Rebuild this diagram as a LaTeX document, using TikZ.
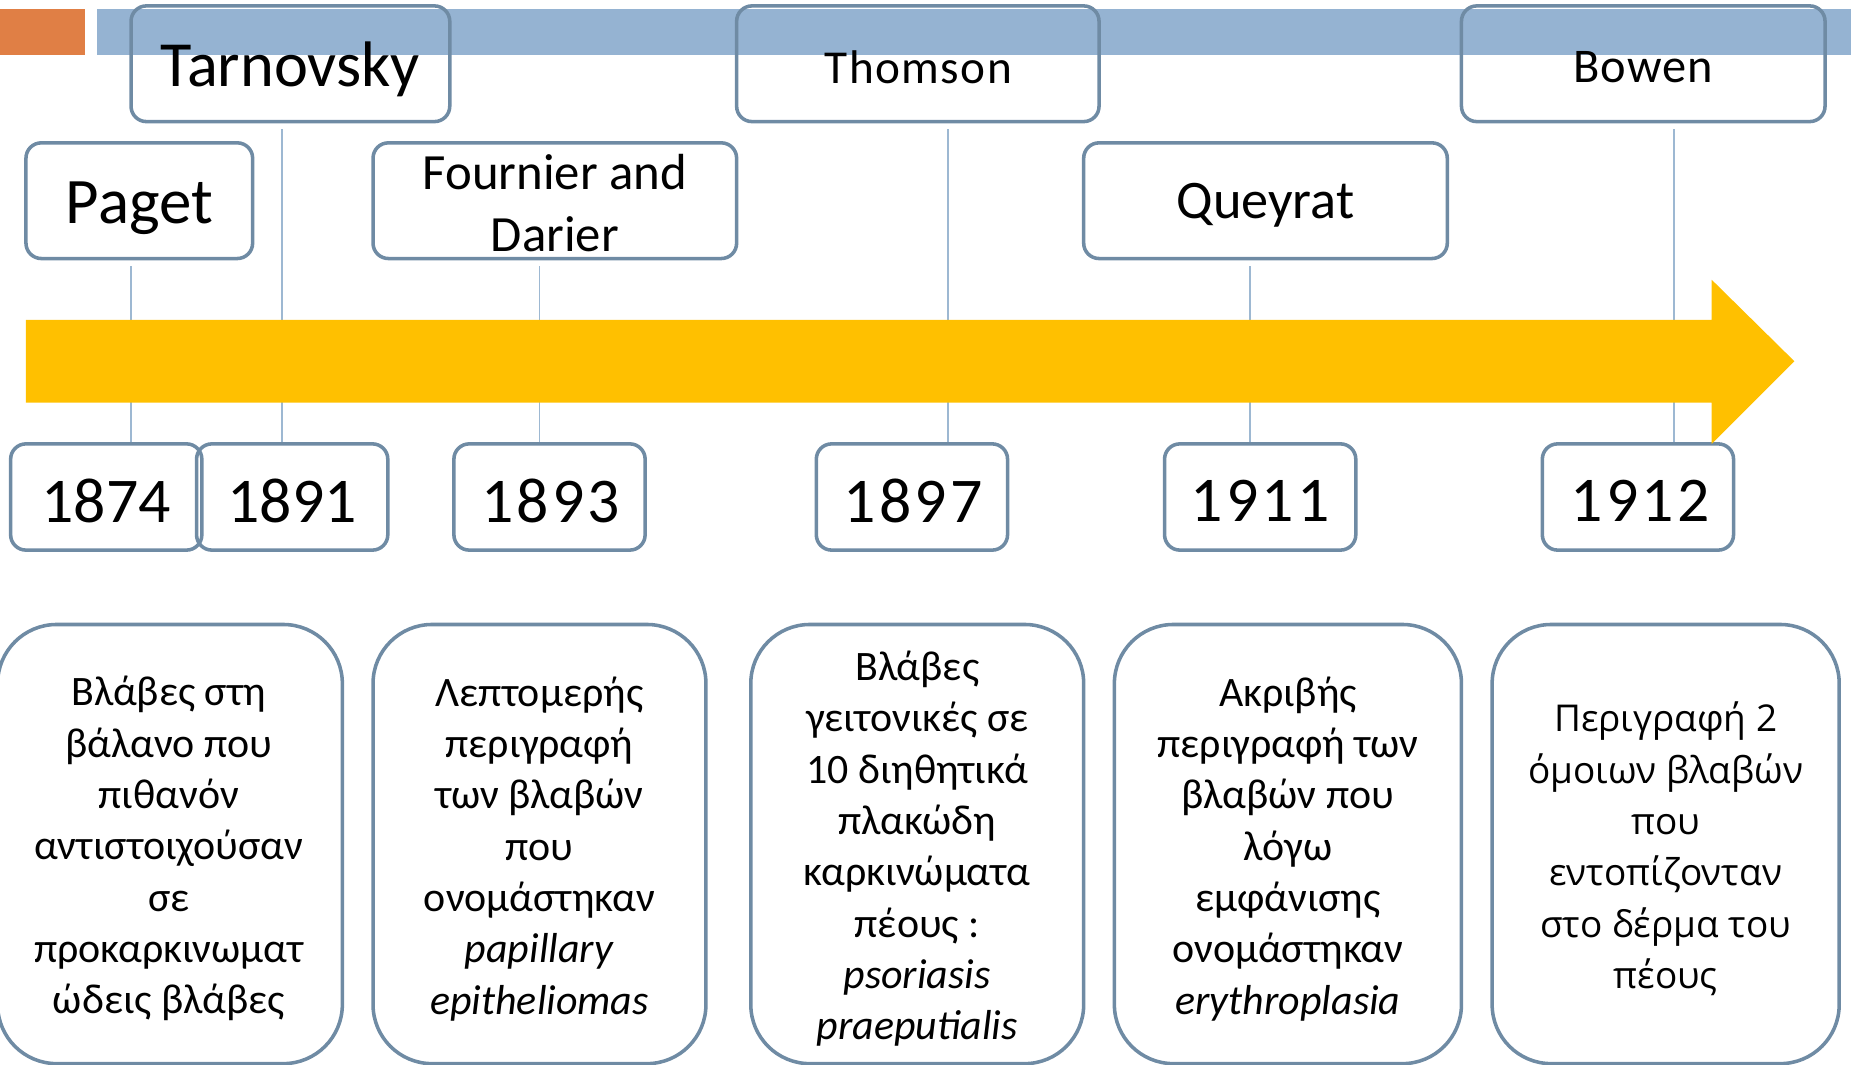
\documentclass[tikz,border=0pt]{standalone}
\usepackage{fontspec}
\setmainfont{Carlito}
\newfontfamily\osans{Open Sans}
\definecolor{boxline}{HTML}{6F8BA4}
\definecolor{vline}{HTML}{9DB8D2}
\definecolor{barblue}{HTML}{95B3D2}
\definecolor{barorange}{HTML}{E07F45}
\definecolor{arrowgold}{HTML}{FFC000}
\tikzset{
  namebox/.style={draw=boxline, line width=3pt, rounded corners=13pt, inner sep=0pt, minimum height=98pt},
  yearbox/.style={draw=boxline, line width=3pt, rounded corners=13pt, inner sep=0pt, minimum width=162pt, minimum height=90pt},
  descbox/.style={draw=boxline, line width=3pt, rounded corners=50pt, inner sep=0pt, minimum height=372pt},
  txt/.style={inner sep=0pt, align=center},
  yeartxt/.style={txt, font=\fontsize{54}{60}\selectfont},
  desctxt/.style={txt, font=\fontsize{35.5}{43.5}\selectfont},
  conn/.style={draw=vline, line width=1.5pt},
}
\begin{document}
\begin{tikzpicture}[x=1pt,y=-1pt]
\useasboundingbox (0,0) rectangle (1568,902);
% header bars
\fill[barorange] (0,8) rectangle (72,47);
\fill[barblue] (82,8) rectangle (1568,47);
% name boxes
\node[namebox, minimum width=270pt] (tarn) at (246,54) {};
\node[txt, font=\fontsize{54.5}{60}\selectfont] (tarnT) at (246,59) {Tarnovsky};
\node[namebox, minimum width=192pt] (paget) at (118,170) {};
\node[txt, font=\fontsize{55}{60}\selectfont] (pagetT) at (118,176) {Paget};
\node[namebox, minimum width=308pt] (fourn) at (470,170) {};
\node[txt, font=\fontsize{43}{53}\selectfont] (fournT) at (470,172) {Fournier and\\Darier};
\node[namebox, minimum width=307pt] (thom) at (777.5,54) {};
\node[txt, font=\fontsize{40}{50}\selectfont] (thomT) at (778,57) {\addfontfeature{LetterSpace=3}Thomson};
\node[namebox, minimum width=308pt] (quey) at (1072,170) {};
\node[txt, font=\fontsize{46}{53}\selectfont] (queyT) at (1072,174) {Queyrat};
\node[namebox, minimum width=308pt] (bowen) at (1392,54) {};
\node[txt, font=\fontsize{41}{50}\selectfont] (bowenT) at (1392,57) {\addfontfeature{LetterSpace=2}Bowen};
% year boxes
\node[yearbox] (y1874) at (90,421) {};
\node[yeartxt] (t1874) at (90,424) {1874};
\node[yearbox] (y1891) at (247.5,421) {};
\node[yeartxt] (t1891) at (247.5,424) {1891};
\node[yearbox] (y1893) at (465.5,421) {};
\node[yeartxt] (t1893) at (466.5,424) {\addfontfeature{LetterSpace=5}1893};
\node[yearbox] (y1897) at (772.5,421) {};
\node[yeartxt] (t1897) at (773.5,424) {\addfontfeature{LetterSpace=5}1897};
\node[yearbox] (y1911) at (1067.5,421) {};
\node[yeartxt] (t1911) at (1067.5,424) {\addfontfeature{LetterSpace=5}1911};
\node[yearbox] (y1912) at (1387.5,421) {};
\node[yeartxt] (t1912) at (1389.5,424) {\addfontfeature{LetterSpace=5}1912};
% connectors
\draw[conn] ([yshift=-5pt]paget.south -| 111,0) -- (y1874.north -| 111,0);
\draw[conn] ([yshift=-5pt]tarn.south -| 239,0) -- (y1891.north -| 239,0);
\draw[conn] ([yshift=-5pt]fourn.south -| 457,0) -- (y1893.north -| 457,0);
\draw[conn] ([yshift=-5pt]thom.south -| 803,0) -- (y1897.north -| 803,0);
\draw[conn] ([yshift=-5pt]quey.south -| 1059,0) -- (y1911.north -| 1059,0);
\draw[conn] ([yshift=-5pt]bowen.south -| 1418,0) -- (y1912.north -| 1418,0);
% timeline arrow
\fill[arrowgold] (22,271) -- (1450,271) -- (1450,237) -- (1520,306) -- (1450,376) -- (1450,341) -- (22,341) -- cycle;
% description boxes
\node[descbox, minimum width=292pt] (d1) at (144,715) {};
\node[desctxt] (d1T) at (143,719) {Βλάβες στη\\βάλανο που\\πιθανόν\\αντιστοιχούσαν\\σε\\προκαρκινωματ\\ώδεις βλάβες};
\node[descbox, minimum width=282pt] (d2) at (457,715) {};
\node[desctxt] (d2T) at (457,719) {Λεπτομερής\\περιγραφή\\των βλαβών\\που\\ονομάστηκαν\\\textit{papillary}\\\textit{epitheliomas}};
\node[descbox, minimum width=282pt] (d3) at (777,715) {};
\node[desctxt] (d3T) at (777,719) {Βλάβες\\γειτονικές σε\\10 διηθητικά\\πλακώδη\\καρκινώματα\\πέους :\\\textit{psoriasis}\\\textit{praeputialis}};
\node[descbox, minimum width=294pt] (d4) at (1091,715) {};
\node[desctxt] (d4T) at (1091,719) {Ακριβής\\περιγραφή των\\βλαβών που\\λόγω\\εμφάνισης\\ονομάστηκαν\\\textit{erythroplasia}};
\node[descbox, minimum width=294pt] (d5) at (1411,715) {};
\node[txt, font=\osans\fontsize{31.3}{43.5}\selectfont] (d5T) at (1411,719) {Περιγραφή 2\\όμοιων βλαβών\\που\\εντοπίζονταν\\στο δέρμα του\\πέους};
\end{tikzpicture}
\end{document}
